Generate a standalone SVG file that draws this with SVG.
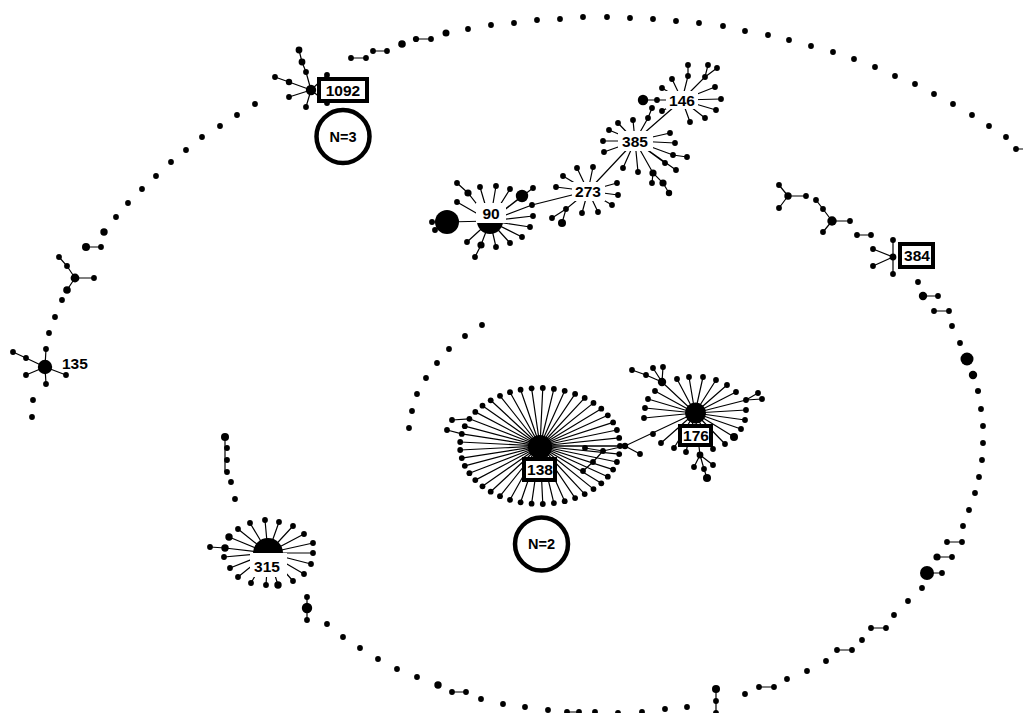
<svg xmlns="http://www.w3.org/2000/svg" width="1023" height="713" viewBox="0 0 1023 713">
<style>
.e{stroke:#000;stroke-width:1.2;fill:none}
circle{fill:#000}
.lb{fill:#fff;stroke:none}
.bx{fill:#fff;stroke:#000;stroke-width:4}
.ring{fill:#fff;stroke:#000;stroke-width:4.5}
text{font-family:"Liberation Sans",Arial,sans-serif;font-weight:bold;font-size:15.5px;text-anchor:middle;fill:#000}
.n{font-size:14.5px}
</style>
<rect width="1023" height="713" fill="#fff"/>
<g id="connectors" class="e">
<path d="M351 58H366M373 51H387M416 39H431M1016 149H1023"/>
<path d="M86 247H101M75 278H94M75 278L67 266L59 257M75 278L67 290"/>
<path d="M45 367L46 349M45 367L26 358L13 352M45 367L26 375M45 367L46 384M45 367L66 375"/>
<path d="M311 90L306 72L302 62L299 50M311 90L289 82L275 77M311 90L289 97M311 90L306 107M311 90L327 75M311 90L327 103"/>
<path d="M268 553L250 523M268 553L265 520M268 553L279 522M268 553L293 526M268 553L304 534M268 553L238 529M268 553L229 537M268 553L313 543M268 553L225 548L210 547M268 553L313 553M268 553L224 557M268 553L311 564M268 553L230 568M268 553L304 574M268 553L238 577M268 553L293 581M268 553L251 583M268 553L266 585M268 553L278 585M225 437V472M307 597V620"/>
<path d="M452 692H466M567 712H579M716 689V713M759 687H774M837 650H852M871 628H886M927 573H942M937 557H952M947 542H962"/>
<path d="M934 311H949M923 296H938M893 240V274M893 257L873 249M893 257L873 266M857 235H871M832 221L823 209L816 200M832 221L823 232M832 221H850M788 196L779 185M788 196L779 208M788 196H806"/>
<path d="M540 446L620 446M540 446L619.2 454.1M540 446L616.9 462M540 446L613.1 469.6M540 446L607.8 476.7M540 446L601.3 483.3M540 446L593.5 489.1M540 446L584.7 494.1M540 446L575.1 498.1M540 446L564.7 501.2M540 446L553.9 503.1M540 446L542.8 504M540 446L531.6 503.7M540 446L520.6 502.3M540 446L510 499.8M540 446L500 496.2M540 446L490.7 491.7M540 446L482.5 486.3M540 446L475.3 480.1M540 446L469.4 473.2M540 446L464.8 465.8M540 446L461.8 458.1M540 446L460.2 450M540 446L460.2 442M540 446L461.8 433.9M540 446L464.8 426.2M540 446L469.4 418.8M540 446L475.3 411.9M540 446L482.5 405.7M540 446L490.7 400.3M540 446L500 395.8M540 446L510 392.2M540 446L520.6 389.7M540 446L531.6 388.3M540 446L542.8 388M540 446L553.9 388.9M540 446L564.7 390.8M540 446L575.1 393.9M540 446L584.7 397.9M540 446L593.5 402.9M540 446L601.3 408.7M540 446L607.8 415.3M540 446L613.1 422.4M540 446L616.9 430M540 446L619.2 437.9M469.4 418.8L452 420M461.8 433.9L447 430"/>
<path d="M540 446L625 446L695 413M625 446L640 454M625 446L603 451L585 448M603 451L593 462L583 471"/>
<path d="M695 413L662 382L646 375L632 370M662 382L653 368M662 382L663 367M695 413L677 379M695 413L689 377M695 413L703 377M695 413L716 380M695 413L727 385M695 413L736 392M695 413L746 400L758 393M746 400L762 399M695 413L746 410M695 413L745 420M695 413L741 429M695 413L734 437M695 413L725 444M695 413L713 449M695 413L655 391M695 413L648 399M695 413L645 408M695 413L644 418M695 413L661 443M695 413L674 448M695 413L686 452M695 413L700 455L704 469L707 478M700 455L694 467M700 455L713 465"/>
<path d="M490 221L468 193L457 183M490 221L480 187M490 221L496 186M490 221L510 189M490 221L522 196M490 221L533 188M490 221L457 202M490 221L532 205L588 191M490 221L533 216M490 221L530 227M490 221L522 237M490 221L510 243M490 221L496 247M490 221L481 245L475 257M490 221L467 242M490 221L447 222M447 222L432 222M447 222L435 230"/>
<path d="M588 191L577 168M588 191L593 167M588 191L563 176M588 191L556 187M588 191L617 183M588 191L618 195M588 191L612 205M588 191L598 212M588 191L582 213M588 191L566 209L562 223M566 209L552 218M588 191L635 141"/>
<path d="M635 141L618 123M635 141L633 120M635 141L648 118L652 108M635 141L609 130M635 141L603 141M635 141L604 152M635 141L670 133M635 141L675 143M635 141L673 155L687 157M635 141L665 163M635 141L676 170M635 141L638 172M635 141L623 168M635 141L653 173L663 183L669 193M653 173L652 183M635 141L682 100"/>
<path d="M682 100L662 88M682 100L672 79M682 100L688 76L688 65M682 100L705 77L708 65M705 77L717 68M682 100L715 87M682 100L721 99M682 100L716 110M682 100L705 118M682 100L690 122M682 100L662 111M682 100L643 100"/>
</g>
<g id="arc-top">
<circle cx="351" cy="58" r="2.9"/><circle cx="366" cy="58" r="2.9"/><circle cx="373" cy="51" r="2.9"/><circle cx="387" cy="51" r="2.9"/><circle cx="402" cy="44" r="3.8"/><circle cx="416" cy="39" r="3.1"/><circle cx="431" cy="39" r="2.9"/><circle cx="446" cy="33" r="3.5"/><circle cx="468" cy="29" r="2.9"/><circle cx="491" cy="25" r="2.9"/><circle cx="514" cy="23" r="2.9"/><circle cx="537" cy="20" r="2.9"/><circle cx="560" cy="19" r="2.9"/><circle cx="583" cy="17" r="2.9"/><circle cx="607" cy="17" r="2.9"/><circle cx="630" cy="18" r="2.9"/><circle cx="653" cy="19" r="2.9"/><circle cx="676" cy="21" r="2.9"/><circle cx="699" cy="23" r="2.9"/><circle cx="723" cy="26" r="2.9"/><circle cx="745" cy="31" r="2.9"/><circle cx="768" cy="35" r="2.9"/><circle cx="789" cy="40" r="2.9"/><circle cx="811" cy="46" r="2.9"/><circle cx="833" cy="52" r="2.9"/><circle cx="854" cy="59" r="2.9"/><circle cx="875" cy="67" r="2.9"/><circle cx="895" cy="76" r="2.9"/><circle cx="915" cy="84" r="2.9"/><circle cx="934" cy="94" r="2.9"/><circle cx="953" cy="104" r="2.9"/><circle cx="972" cy="115" r="2.9"/><circle cx="989" cy="126" r="2.9"/><circle cx="1006" cy="137" r="2.9"/><circle cx="1016" cy="149" r="2.9"/>
</g>
<g id="node-1092">
<circle cx="311" cy="90" r="5.2"/><circle cx="306" cy="72" r="2.9"/><circle cx="302" cy="62" r="3.4"/><circle cx="299" cy="50" r="3.4"/><circle cx="289" cy="82" r="3.2"/><circle cx="275" cy="77" r="2.9"/><circle cx="289" cy="97" r="2.9"/><circle cx="306" cy="107" r="2.9"/><circle cx="327" cy="75" r="2.9"/><circle cx="327" cy="103" r="2.9"/>
<rect class="bx" x="319" y="79" width="48" height="22"/>
<text x="343" y="95.5">1092</text>
</g>
<g id="note-n3">
<circle class="ring" cx="343" cy="136.5" r="26.5"/>
<text class="n" x="343" y="141.5">N=3</text>
</g>
<g id="arc-left">
<circle cx="255" cy="104" r="2.9"/><circle cx="237" cy="115" r="2.9"/><circle cx="220" cy="126" r="2.9"/><circle cx="202" cy="137" r="2.9"/><circle cx="186" cy="150" r="2.9"/><circle cx="171" cy="162" r="2.9"/><circle cx="156" cy="176" r="2.9"/><circle cx="142" cy="189" r="2.9"/><circle cx="128" cy="203" r="2.9"/><circle cx="116" cy="217" r="2.9"/><circle cx="104" cy="232" r="3.7"/><circle cx="86" cy="247" r="4"/><circle cx="101" cy="247" r="2.9"/><circle cx="75" cy="278" r="4.4"/><circle cx="94" cy="278" r="2.9"/><circle cx="67" cy="266" r="2.9"/><circle cx="59" cy="257" r="2.9"/><circle cx="67" cy="290" r="3.8"/><circle cx="62" cy="300" r="2.9"/><circle cx="55" cy="317" r="2.9"/><circle cx="49" cy="333" r="2.9"/><circle cx="33" cy="400" r="2.9"/><circle cx="32" cy="417" r="2.9"/>
</g>
<g id="node-135">
<circle cx="45" cy="367" r="7.2"/><circle cx="46" cy="349" r="2.9"/><circle cx="26" cy="358" r="2.9"/><circle cx="13" cy="352" r="2.9"/><circle cx="26" cy="375" r="2.9"/><circle cx="46" cy="384" r="2.9"/><circle cx="66" cy="375" r="2.9"/>
<text x="62" y="368.5" style="text-anchor:start">135</text>
</g>
<g id="node-90">
<circle cx="490" cy="221" r="13"/>
<circle cx="457" cy="183" r="2.9"/><circle cx="468" cy="193" r="3.6"/><circle cx="480" cy="187" r="2.9"/><circle cx="496" cy="186" r="2.9"/><circle cx="510" cy="189" r="2.9"/><circle cx="522" cy="196" r="6.2"/><circle cx="533" cy="188" r="2.9"/><circle cx="457" cy="202" r="2.9"/><circle cx="532" cy="205" r="2.9"/><circle cx="533" cy="216" r="2.9"/><circle cx="530" cy="227" r="2.9"/><circle cx="522" cy="237" r="2.9"/><circle cx="510" cy="243" r="2.9"/><circle cx="496" cy="247" r="2.9"/><circle cx="481" cy="245" r="3.6"/><circle cx="475" cy="257" r="2.9"/><circle cx="467" cy="242" r="2.9"/><circle cx="447" cy="222" r="12"/><circle cx="432" cy="222" r="2.9"/><circle cx="435" cy="230" r="2.9"/>
<rect class="lb" x="476" y="203" width="30" height="20"/>
<text x="491" y="219">90</text>
</g>
<g id="node-273">
<circle cx="577" cy="168" r="2.9"/><circle cx="593" cy="167" r="2.9"/><circle cx="563" cy="176" r="2.9"/><circle cx="556" cy="187" r="2.9"/><circle cx="617" cy="183" r="2.9"/><circle cx="618" cy="195" r="2.9"/><circle cx="612" cy="205" r="2.9"/><circle cx="598" cy="212" r="2.9"/><circle cx="582" cy="213" r="2.9"/><circle cx="566" cy="209" r="2.9"/><circle cx="562" cy="223" r="4"/><circle cx="552" cy="218" r="2.9"/>
<rect class="lb" x="572" y="182" width="33" height="19"/>
<text x="588" y="197">273</text>
</g>
<g id="node-385">
<circle cx="618" cy="123" r="2.9"/><circle cx="633" cy="120" r="2.9"/><circle cx="648" cy="118" r="2.9"/><circle cx="652" cy="108" r="2.9"/><circle cx="609" cy="130" r="2.9"/><circle cx="603" cy="141" r="2.9"/><circle cx="604" cy="152" r="2.9"/><circle cx="670" cy="133" r="2.9"/><circle cx="675" cy="143" r="2.9"/><circle cx="673" cy="155" r="2.9"/><circle cx="687" cy="157" r="2.9"/><circle cx="665" cy="163" r="2.9"/><circle cx="676" cy="170" r="2.9"/><circle cx="638" cy="172" r="2.9"/><circle cx="623" cy="168" r="2.9"/><circle cx="653" cy="173" r="3.6"/><circle cx="663" cy="183" r="3.6"/><circle cx="669" cy="193" r="3.2"/><circle cx="652" cy="183" r="2.9"/>
<rect class="lb" x="618" y="131" width="35" height="20"/>
<text x="635" y="146.5">385</text>
</g>
<g id="node-146">
<circle cx="662" cy="88" r="2.9"/><circle cx="672" cy="79" r="2.9"/><circle cx="688" cy="76" r="2.9"/><circle cx="688" cy="65" r="2.9"/><circle cx="705" cy="77" r="2.9"/><circle cx="708" cy="65" r="2.9"/><circle cx="717" cy="68" r="2.9"/><circle cx="715" cy="87" r="2.9"/><circle cx="721" cy="99" r="2.9"/><circle cx="716" cy="110" r="2.9"/><circle cx="705" cy="118" r="2.9"/><circle cx="690" cy="122" r="2.9"/><circle cx="662" cy="111" r="2.9"/><circle cx="657" cy="100" r="2.9"/><circle cx="643" cy="100" r="5.2"/>
<rect class="lb" x="666" y="91" width="32" height="18"/>
<text x="682" y="105.5">146</text>
</g>
<g id="arc-inner">
<circle cx="482" cy="325" r="2.9"/><circle cx="465" cy="336" r="2.9"/><circle cx="449" cy="349" r="2.9"/><circle cx="437" cy="363" r="2.9"/><circle cx="426" cy="378" r="2.9"/><circle cx="417" cy="394" r="2.9"/><circle cx="412" cy="411" r="2.9"/><circle cx="409" cy="428" r="2.9"/>
</g>
<g id="node-138">
<circle cx="620" cy="446" r="2.9"/><circle cx="619.2" cy="454.1" r="2.9"/><circle cx="616.9" cy="462" r="2.9"/><circle cx="613.1" cy="469.6" r="2.9"/><circle cx="607.8" cy="476.7" r="2.9"/><circle cx="601.3" cy="483.3" r="2.9"/><circle cx="593.5" cy="489.1" r="2.9"/><circle cx="584.7" cy="494.1" r="2.9"/><circle cx="575.1" cy="498.1" r="2.9"/><circle cx="564.7" cy="501.2" r="2.9"/><circle cx="553.9" cy="503.1" r="2.9"/><circle cx="542.8" cy="504" r="2.9"/><circle cx="531.6" cy="503.7" r="2.9"/><circle cx="520.6" cy="502.3" r="2.9"/><circle cx="510" cy="499.8" r="2.9"/><circle cx="500" cy="496.2" r="2.9"/><circle cx="490.7" cy="491.7" r="2.9"/><circle cx="482.5" cy="486.3" r="2.9"/><circle cx="475.3" cy="480.1" r="2.9"/><circle cx="469.4" cy="473.2" r="2.9"/><circle cx="464.8" cy="465.8" r="2.9"/><circle cx="461.8" cy="458.1" r="2.9"/><circle cx="460.2" cy="450" r="2.9"/><circle cx="460.2" cy="442" r="2.9"/><circle cx="461.8" cy="433.9" r="2.9"/><circle cx="464.8" cy="426.2" r="2.9"/><circle cx="469.4" cy="418.8" r="2.9"/><circle cx="475.3" cy="411.9" r="2.9"/><circle cx="482.5" cy="405.7" r="2.9"/><circle cx="490.7" cy="400.3" r="2.9"/><circle cx="500" cy="395.8" r="2.9"/><circle cx="510" cy="392.2" r="2.9"/><circle cx="520.6" cy="389.7" r="2.9"/><circle cx="531.6" cy="388.3" r="2.9"/><circle cx="542.8" cy="388" r="2.9"/><circle cx="553.9" cy="388.9" r="2.9"/><circle cx="564.7" cy="390.8" r="2.9"/><circle cx="575.1" cy="393.9" r="2.9"/><circle cx="584.7" cy="397.9" r="2.9"/><circle cx="593.5" cy="402.9" r="2.9"/><circle cx="601.3" cy="408.7" r="2.9"/><circle cx="607.8" cy="415.3" r="2.9"/><circle cx="613.1" cy="422.4" r="2.9"/><circle cx="616.9" cy="430" r="2.9"/><circle cx="619.2" cy="437.9" r="2.9"/><circle cx="452" cy="420" r="2.9"/><circle cx="447" cy="430" r="2.9"/>
<circle cx="540" cy="447" r="12"/>
<circle cx="625" cy="446" r="3.2"/><circle cx="640" cy="454" r="2.9"/><circle cx="603" cy="451" r="2.9"/><circle cx="585" cy="448" r="2.9"/><circle cx="593" cy="462" r="2.9"/><circle cx="583" cy="471" r="2.9"/>
<rect class="bx" x="524" y="459" width="31" height="21"/>
<text x="540" y="475">138</text>
</g>
<g id="note-n2">
<circle class="ring" cx="541.5" cy="544" r="26.5"/>
<text class="n" x="541.5" y="549">N=2</text>
</g>
<g id="node-176">
<circle cx="695.5" cy="413" r="10.5"/>
<circle cx="662" cy="382" r="4.2"/><circle cx="646" cy="375" r="2.9"/><circle cx="632" cy="370" r="2.9"/><circle cx="653" cy="368" r="2.9"/><circle cx="663" cy="367" r="2.9"/><circle cx="677" cy="379" r="2.9"/><circle cx="689" cy="377" r="2.9"/><circle cx="703" cy="377" r="2.9"/><circle cx="716" cy="380" r="2.9"/><circle cx="727" cy="385" r="2.9"/><circle cx="736" cy="392" r="2.9"/><circle cx="746" cy="400" r="2.9"/><circle cx="758" cy="393" r="2.9"/><circle cx="762" cy="399" r="2.9"/><circle cx="746" cy="410" r="2.9"/><circle cx="745" cy="420" r="2.9"/><circle cx="741" cy="429" r="2.9"/><circle cx="734" cy="437" r="4"/><circle cx="725" cy="444" r="2.9"/><circle cx="713" cy="449" r="2.9"/><circle cx="655" cy="391" r="2.9"/><circle cx="648" cy="399" r="2.9"/><circle cx="645" cy="408" r="2.9"/><circle cx="644" cy="418" r="2.9"/><circle cx="653" cy="434" r="2.9"/><circle cx="661" cy="443" r="2.9"/><circle cx="674" cy="448" r="2.9"/><circle cx="686" cy="452" r="2.9"/><circle cx="700" cy="455" r="3.4"/><circle cx="694" cy="467" r="2.9"/><circle cx="704" cy="469" r="2.9"/><circle cx="713" cy="465" r="2.9"/><circle cx="707" cy="478" r="4"/>
<rect class="bx" x="680" y="426" width="31" height="19"/>
<text x="696" y="441">176</text>
</g>
<g id="node-315">
<circle cx="225" cy="437" r="4"/><circle cx="227" cy="448" r="2.9"/><circle cx="227" cy="460" r="2.9"/><circle cx="227" cy="472" r="2.9"/><circle cx="231" cy="482" r="2.9"/><circle cx="235" cy="499" r="2.9"/>
<circle cx="250" cy="523" r="2.9"/><circle cx="265" cy="520" r="2.9"/><circle cx="279" cy="522" r="2.9"/><circle cx="293" cy="526" r="2.9"/><circle cx="304" cy="534" r="2.9"/><circle cx="238" cy="529" r="2.9"/><circle cx="229" cy="537" r="3.7"/><circle cx="313" cy="543" r="2.9"/><circle cx="225" cy="548" r="3.7"/><circle cx="210" cy="547" r="2.9"/><circle cx="313" cy="553" r="2.9"/><circle cx="224" cy="557" r="2.9"/><circle cx="311" cy="564" r="2.9"/><circle cx="230" cy="568" r="2.9"/><circle cx="304" cy="574" r="2.9"/><circle cx="238" cy="577" r="2.9"/><circle cx="293" cy="581" r="2.9"/><circle cx="251" cy="583" r="2.9"/><circle cx="266" cy="585" r="2.9"/><circle cx="278" cy="585" r="3.7"/>
<circle cx="268" cy="553" r="15"/>
<rect class="lb" x="250" y="553" width="37" height="24"/>
<text x="267" y="572">315</text>
</g>
<g id="arc-bottom">
<circle cx="307" cy="597" r="2.9"/><circle cx="307" cy="608" r="5.2"/><circle cx="307" cy="620" r="2.9"/><circle cx="327" cy="624" r="2.9"/><circle cx="343" cy="637" r="2.9"/><circle cx="360" cy="648" r="2.9"/><circle cx="378" cy="659" r="2.9"/><circle cx="397" cy="669" r="2.9"/><circle cx="417" cy="677" r="2.9"/><circle cx="438" cy="685" r="3.7"/><circle cx="452" cy="692" r="2.9"/><circle cx="466" cy="692" r="2.9"/><circle cx="481" cy="699" r="2.9"/><circle cx="503" cy="704" r="2.9"/><circle cx="525" cy="707" r="2.9"/><circle cx="548" cy="710" r="2.9"/><circle cx="567" cy="712" r="2.9"/><circle cx="579" cy="712" r="2.9"/><circle cx="595" cy="712" r="2.9"/><circle cx="618" cy="713" r="2.9"/><circle cx="642" cy="712" r="2.9"/><circle cx="665" cy="709" r="2.9"/><circle cx="687" cy="707" r="2.9"/><circle cx="716" cy="689" r="4"/><circle cx="716" cy="701" r="2.9"/><circle cx="716" cy="713" r="2.9"/><circle cx="745" cy="694" r="2.9"/><circle cx="759" cy="687" r="2.9"/><circle cx="774" cy="687" r="2.9"/><circle cx="787" cy="679" r="2.9"/><circle cx="807" cy="671" r="2.9"/><circle cx="826" cy="661" r="2.9"/><circle cx="837" cy="650" r="2.9"/><circle cx="852" cy="650" r="2.9"/><circle cx="862" cy="640" r="2.9"/><circle cx="871" cy="628" r="2.9"/><circle cx="886" cy="628" r="2.9"/><circle cx="894" cy="615" r="2.9"/><circle cx="908" cy="601" r="2.9"/><circle cx="922" cy="588" r="2.9"/><circle cx="927" cy="573" r="7"/><circle cx="942" cy="573" r="2.9"/>
</g>
<g id="arc-right">
<circle cx="937" cy="557" r="3.6"/><circle cx="952" cy="557" r="2.9"/><circle cx="947" cy="542" r="2.9"/><circle cx="962" cy="542" r="2.9"/><circle cx="963" cy="526" r="2.9"/><circle cx="969" cy="510" r="2.9"/><circle cx="975" cy="493" r="2.9"/><circle cx="979" cy="477" r="2.9"/><circle cx="982" cy="460" r="2.9"/><circle cx="983" cy="443" r="2.9"/><circle cx="983" cy="426" r="2.9"/><circle cx="981" cy="409" r="2.9"/><circle cx="978" cy="391" r="3"/><circle cx="973" cy="375" r="4.2"/><circle cx="967" cy="359" r="6.5"/><circle cx="960" cy="343" r="2.9"/><circle cx="952" cy="326" r="2.9"/><circle cx="934" cy="311" r="2.9"/><circle cx="949" cy="311" r="2.9"/><circle cx="923" cy="296" r="4.2"/><circle cx="938" cy="296" r="2.9"/><circle cx="918" cy="282" r="2.9"/><circle cx="857" cy="235" r="2.9"/><circle cx="871" cy="235" r="2.9"/><circle cx="832" cy="221" r="4.7"/><circle cx="823" cy="209" r="2.9"/><circle cx="816" cy="200" r="2.9"/><circle cx="823" cy="232" r="2.9"/><circle cx="850" cy="221" r="2.9"/><circle cx="788" cy="196" r="3.7"/><circle cx="779" cy="185" r="2.9"/><circle cx="779" cy="208" r="2.9"/><circle cx="806" cy="196" r="2.9"/>
</g>
<g id="node-384">
<circle cx="893" cy="257" r="3.4"/><circle cx="893" cy="240" r="2.9"/><circle cx="893" cy="274" r="2.9"/><circle cx="873" cy="249" r="2.9"/><circle cx="873" cy="266" r="2.9"/>
<rect class="bx" x="900" y="244" width="33" height="23"/>
<text x="917" y="261">384</text>
</g>
</svg>
